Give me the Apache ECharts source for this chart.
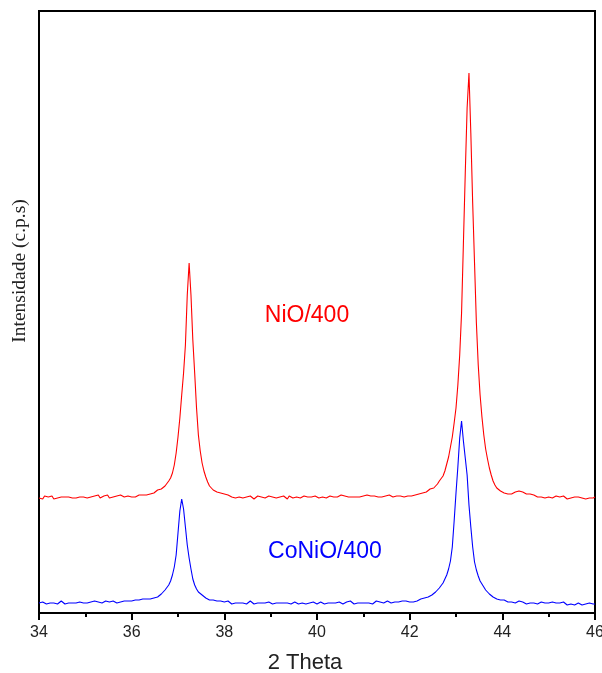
<!DOCTYPE html>
<html>
<head>
<meta charset="utf-8">
<script src="https://cdn.jsdelivr.net/npm/echarts@6/dist/echarts.min.js"></script>
<style>
  html, body { margin: 0; padding: 0; background: #fff; }
  #chart { width: 602px; height: 673px; }
</style>
</head>
<body>
<div id="chart"></div>
<script>
// 2 theta sampling grid: 34.00 .. 46.00, step 0.04
const thetaStart = 34;
const thetaStep = 0.04;
const xTicks = [34, 36, 38, 40, 42, 44, 46];

// NiO/400, one row per degree (25 samples)
const nioValues = [
  115,116,114,117,115,116,115,117,114,116,115,117,116,115,116,114,116,117,115,116,115,117,116,115,116,
  116,115,117,116,115,117,116,118,115,116,117,116,118,115,117,116,118,117,116,118,117,116,118,117,116,
  116,117,116,117,118,117,118,119,118,120,119,121,120,122,123,122,124,125,127,129,132,135,140,148,160,
  176,195,218,240,268,318,350,318,273,240,205,178,162,150,142,136,131,127,125,123,122,121,119,120,118,
  119,117,118,117,116,117,115,117,116,118,115,117,116,115,117,116,114,116,117,115,116,117,115,116,117,
  115,116,118,115,117,116,115,117,116,114,117,116,115,117,116,118,115,116,117,115,116,118,116,115,117,
  116,115,117,116,118,115,116,117,115,116,117,116,115,118,116,117,115,116,117,116,118,116,117,116,115,
  117,116,118,116,117,115,117,118,116,117,116,118,117,116,118,117,116,118,117,119,117,118,116,118,117,
  118,117,119,118,120,119,121,120,122,121,123,124,123,125,127,129,132,134,137,142,149,156,166,176,190,
  205,228,258,300,370,440,505,540,480,410,350,290,248,218,196,178,164,154,145,138,132,128,125,124,122,
  121,120,120,119,118,119,120,121,123,122,123,121,122,119,118,119,117,118,117,116,117,116,117,115,116,
  116,117,115,116,117,115,116,115,117,116,114,116,115,117,116,115,116,117,115,116,114,116,115,116,115,
  116
];

// CoNiO/400
const conioValues = [
  10,9,11,10,9,11,10,9,10,11,9,10,12,10,9,11,10,9,10,11,10,9,11,10,10,
  11,10,9,11,10,12,10,11,9,10,11,12,10,11,10,12,11,10,12,11,10,12,11,12,11,
  12,11,13,12,13,12,14,13,14,15,14,16,15,17,16,18,19,20,23,25,28,32,38,46,58,
  80,102,114,104,86,68,55,44,34,28,24,21,20,18,16,15,14,13,12,13,11,12,11,12,10,
  11,10,12,10,9,11,10,12,10,9,10,11,9,10,12,10,9,11,10,9,10,11,10,9,11,
  10,9,11,10,9,10,12,10,9,10,11,9,10,11,10,9,11,10,10,9,11,10,9,11,10,
  9,10,11,10,9,11,10,9,10,11,10,9,11,10,9,10,11,10,12,10,9,11,10,11,10,
  11,10,12,10,11,9,11,12,10,11,12,10,11,12,11,10,12,11,12,11,13,12,11,12,11,
  11,12,11,13,12,13,14,13,15,14,16,16,18,19,21,23,25,27,30,34,38,44,52,66,92,
  120,146,175,192,172,155,138,108,86,66,51,43,37,32,29,26,23,21,19,17,16,15,14,14,13,
  12,13,12,11,12,11,12,10,11,12,10,11,10,9,11,10,9,10,11,9,10,11,9,10,9,
  10,9,11,9,10,8,10,9,11,9,8,10,9,10,8,9,10,9,8,10,9,8,10,9,9,
  9
];

const toPairs = (vals) => vals.map((v, i) => [+(thetaStart + i * thetaStep).toFixed(2), v]);

const chart = echarts.init(document.getElementById('chart'));
const option = {
  animation: false,
  backgroundColor: '#fff',
  grid: {
    left: 39,
    right: 7,
    top: 11,
    bottom: 60,
    outerBoundsMode: 'none',
    containLabel: false,
    show: true,
    borderColor: '#000',
    borderWidth: 2
  },
  xAxis: {
    type: 'value',
    min: 34,
    max: 46,
    interval: 2,
    name: '2 Theta',
    nameLocation: 'middle',
    nameGap: 39,
    nameTextStyle: { fontFamily: 'Liberation Sans', fontSize: 22, color: '#222', padding: [0, 24, 0, 0] },
    axisLine: { show: true, onZero: false, lineStyle: { color: '#000', width: 2 } },
    axisTick: { show: true, inside: false, length: 7, lineStyle: { color: '#000', width: 2 } },
    minorTick: { show: true, splitNumber: 2, length: 4, lineStyle: { color: '#000', width: 2 } },
    axisLabel: {
      margin: 12,
      fontFamily: 'Liberation Sans',
      fontSize: 16,
      color: '#222',
      formatter: (v) => (xTicks.indexOf(v) >= 0 ? String(v) : '')
    },
    splitLine: { show: false }
  },
  yAxis: {
    type: 'value',
    min: 0,
    max: 602,
    axisLine: { show: false },
    axisTick: { show: false },
    axisLabel: { show: false },
    splitLine: { show: false }
  },
  series: [
    {
      name: 'NiO/400',
      type: 'line',
      symbol: 'none',
      lineStyle: { color: '#ff0000', width: 1.1 },
      data: toPairs(nioValues)
    },
    {
      name: 'CoNiO/400',
      type: 'line',
      symbol: 'none',
      lineStyle: { color: '#0000ff', width: 1.1 },
      data: toPairs(conioValues)
    }
  ],
  graphic: [
    {
      type: 'text',
      x: 20,
      y: 271,
      rotation: Math.PI / 2,
      style: {
        text: 'Intensidade (c.p.s)',
        font: '19.5px "Liberation Serif"',
        fill: '#222',
        align: 'center',
        verticalAlign: 'middle'
      }
    },
    {
      type: 'text',
      x: 307,
      y: 316,
      style: {
        text: 'NiO/400',
        font: '23px "Liberation Sans"',
        fill: '#ff0000',
        align: 'center',
        verticalAlign: 'middle'
      }
    },
    {
      type: 'text',
      x: 325,
      y: 552,
      style: {
        text: 'CoNiO/400',
        font: '23px "Liberation Sans"',
        fill: '#0000ff',
        align: 'center',
        verticalAlign: 'middle'
      }
    }
  ]
};
chart.setOption(option);
</script>
</body>
</html>
